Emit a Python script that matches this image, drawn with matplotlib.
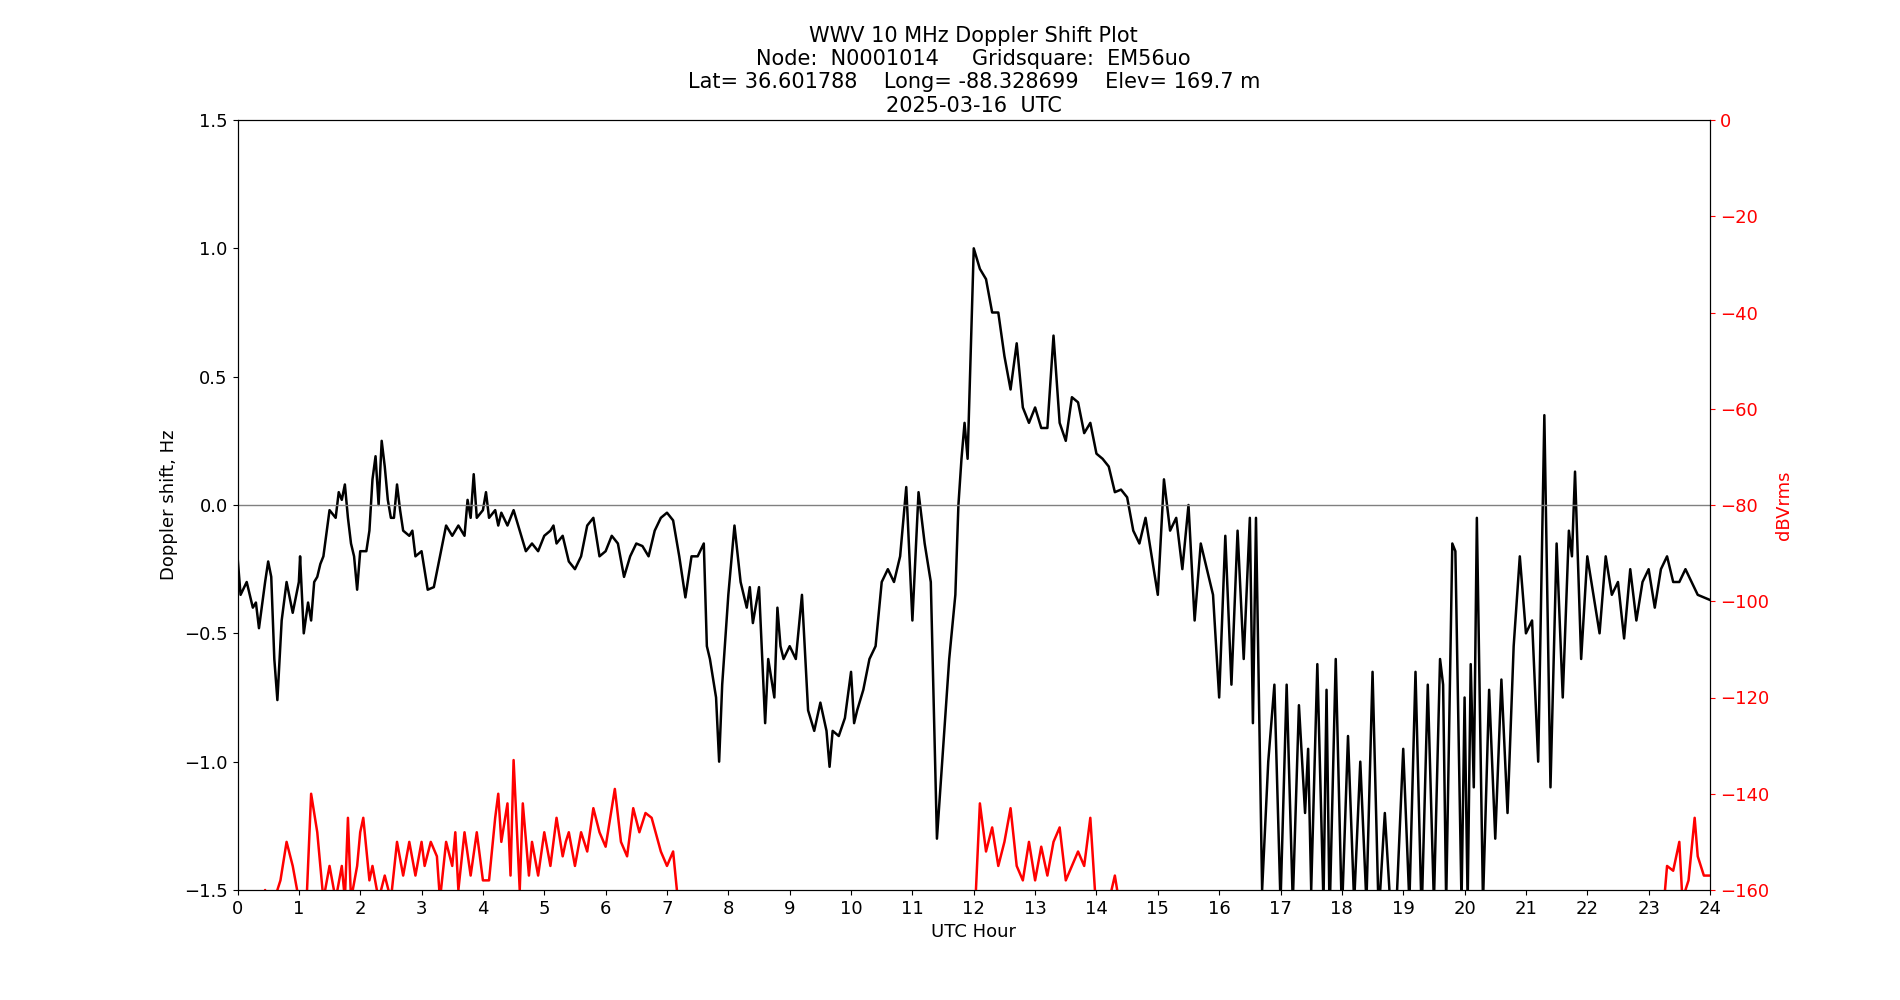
import numpy as np
import matplotlib
matplotlib.use("Agg")
import matplotlib.pyplot as plt

dop_hours = [0, .05, .15, .25, .3, .35, .45, .5, .55, .6, .65, .72, .8, .9, 1.0, 1.02, 1.08, 1.15, 1.2, 1.25, 1.3, 1.35, 1.4, 1.5, 1.6, 1.65, 1.7, 1.75, 1.8, 1.85, 1.9, 1.95, 2.0, 2.1, 2.15, 2.2, 2.25, 2.3, 2.35, 2.4, 2.45, 2.5, 2.55, 2.6, 2.65, 2.7, 2.8, 2.85, 2.9, 3.0, 3.1, 3.2, 3.3, 3.4, 3.5, 3.6, 3.7, 3.75, 3.8, 3.85, 3.9, 4.0, 4.05, 4.1, 4.2, 4.25, 4.3, 4.4, 4.5, 4.6, 4.7, 4.8, 4.9, 5.0, 5.1, 5.15, 5.2, 5.3, 5.4, 5.5, 5.6, 5.7, 5.8, 5.9, 6.0, 6.1, 6.2, 6.3, 6.4, 6.5, 6.6, 6.7, 6.8, 6.9, 7.0, 7.1, 7.2, 7.3, 7.4, 7.5, 7.6, 7.65, 7.7, 7.8, 7.85, 7.9, 8.0, 8.1, 8.2, 8.3, 8.35, 8.4, 8.5, 8.6, 8.65, 8.75, 8.8, 8.85, 8.9, 9.0, 9.1, 9.2, 9.3, 9.4, 9.5, 9.6, 9.65, 9.7, 9.8, 9.9, 10.0, 10.05, 10.1, 10.2, 10.3, 10.4, 10.5, 10.6, 10.7, 10.8, 10.9, 11.0, 11.1, 11.2, 11.3, 11.4, 11.5, 11.6, 11.7, 11.75, 11.8, 11.85, 11.9, 12.0, 12.1, 12.2, 12.3, 12.4, 12.5, 12.6, 12.7, 12.8, 12.9, 13.0, 13.1, 13.2, 13.3, 13.4, 13.5, 13.6, 13.7, 13.8, 13.9, 14.0, 14.1, 14.2, 14.3, 14.4, 14.5, 14.6, 14.7, 14.8, 14.9, 15.0, 15.1, 15.2, 15.3, 15.4, 15.5, 15.6, 15.7, 15.8, 15.9, 16.0, 16.1, 16.2, 16.3, 16.4, 16.5, 16.55, 16.6, 16.7, 16.8, 16.9, 17.0, 17.1, 17.2, 17.3, 17.4, 17.45, 17.5, 17.6, 17.7, 17.75, 17.8, 17.9, 18.0, 18.1, 18.2, 18.3, 18.4, 18.5, 18.6, 18.7, 18.8, 18.9, 19.0, 19.1, 19.2, 19.3, 19.4, 19.5, 19.6, 19.65, 19.7, 19.8, 19.85, 19.95, 20.0, 20.05, 20.1, 20.15, 20.2, 20.3, 20.4, 20.5, 20.6, 20.7, 20.8, 20.9, 21.0, 21.1, 21.2, 21.3, 21.4, 21.5, 21.6, 21.7, 21.75, 21.8, 21.9, 22.0, 22.1, 22.2, 22.3, 22.4, 22.5, 22.6, 22.7, 22.8, 22.9, 23.0, 23.1, 23.2, 23.3, 23.4, 23.5, 23.6, 23.7, 23.8, 24.0]
dop_hz = [-.2, -.35, -.3, -.4, -.38, -.48, -.3, -.22, -.28, -.6, -.76, -.45, -.3, -.42, -.3, -.2, -.5, -.38, -.45, -.3, -.28, -.23, -.2, -.02, -.05, .05, .02, .08, -.05, -.15, -.2, -.33, -.18, -.18, -.1, .1, .19, 0, .25, .15, .02, -.05, -.05, .08, -.02, -.1, -.12, -.1, -.2, -.18, -.33, -.32, -.2, -.08, -.12, -.08, -.12, .02, -.05, .12, -.05, -.02, .05, -.05, -.02, -.08, -.03, -.08, -.02, -.1, -.18, -.15, -.18, -.12, -.1, -.08, -.15, -.12, -.22, -.25, -.2, -.08, -.05, -.2, -.18, -.12, -.15, -.28, -.2, -.15, -.16, -.2, -.1, -.05, -.03, -.06, -.2, -.36, -.2, -.2, -.15, -.55, -.6, -.75, -1.0, -.7, -.35, -.08, -.3, -.4, -.32, -.46, -.32, -.85, -.6, -.75, -.4, -.55, -.6, -.55, -.6, -.35, -.8, -.88, -.77, -.88, -1.02, -.88, -.9, -.83, -.65, -.85, -.8, -.72, -.6, -.55, -.3, -.25, -.3, -.2, .07, -.45, .05, -.15, -.3, -1.3, -.95, -.6, -.35, 0, .18, .32, .18, 1.0, .92, .88, .75, .75, .58, .45, .63, .38, .32, .38, .3, .3, .66, .32, .25, .42, .4, .28, .32, .2, .18, .15, .05, .06, .03, -.1, -.15, -.05, -.2, -.35, .1, -.1, -.05, -.25, 0, -.45, -.15, -.25, -.35, -.75, -.12, -.7, -.1, -.6, -.05, -.85, -.05, -1.5, -1.0, -.7, -1.55, -.7, -1.55, -.78, -1.2, -.95, -1.5, -.62, -1.55, -.72, -1.6, -.6, -1.6, -.9, -1.55, -1.0, -1.55, -.65, -1.6, -1.2, -1.6, -1.5, -.95, -1.55, -.65, -1.6, -.7, -1.55, -.6, -.7, -1.55, -.15, -.18, -1.55, -.75, -1.55, -.62, -1.1, -.05, -1.55, -.72, -1.3, -.68, -1.2, -.55, -.2, -.5, -.45, -1.0, .35, -1.1, -.15, -.75, -.1, -.2, .13, -.6, -.2, -.35, -.5, -.2, -.35, -.3, -.52, -.25, -.45, -.3, -.25, -.4, -.25, -.2, -.3, -.3, -.25, -.3, -.35, -.37]

pwr_hours = [.4, .45, .5, .6, .7, .8, .9, 1.0, 1.1, 1.2, 1.3, 1.4, 1.5, 1.6, 1.7, 1.75, 1.8, 1.85, 1.95, 2.0, 2.05, 2.15, 2.2, 2.3, 2.4, 2.5, 2.6, 2.7, 2.8, 2.9, 3.0, 3.05, 3.15, 3.25, 3.3, 3.4, 3.5, 3.55, 3.6, 3.7, 3.8, 3.9, 4.0, 4.1, 4.2, 4.25, 4.3, 4.4, 4.45, 4.5, 4.6, 4.65, 4.75, 4.8, 4.9, 5.0, 5.1, 5.2, 5.3, 5.35, 5.4, 5.5, 5.6, 5.7, 5.8, 5.9, 6.0, 6.15, 6.25, 6.35, 6.45, 6.55, 6.65, 6.75, 6.9, 7.0, 7.1, 7.2, 7.21,
             11.99, 12.0, 12.1, 12.2, 12.3, 12.4, 12.5, 12.6, 12.7, 12.8, 12.9, 13.0, 13.1, 13.2, 13.3, 13.4, 13.5, 13.6, 13.7, 13.8, 13.9, 14.0, 14.05,
             14.1, 14.3, 14.4, 14.45, 23.2, 23.3, 23.4, 23.5, 23.55, 23.65, 23.75, 23.8, 23.9, 24.0]
pwr_db = [-165, -160, -175, -162, -158, -150, -155, -162, -170, -140, -148, -162, -155, -162, -155, -162, -145, -162, -155, -148, -145, -158, -155, -162, -157, -162, -150, -157, -150, -157, -150, -155, -150, -153, -162, -150, -155, -148, -160, -148, -157, -148, -158, -158, -145, -140, -150, -142, -157, -133, -160, -142, -157, -150, -157, -148, -155, -145, -153, -150, -148, -155, -148, -152, -143, -148, -151, -139, -150, -153, -143, -148, -144, -145, -152, -155, -152, -165, np.nan,
          np.nan, -170, -142, -152, -147, -155, -150, -143, -155, -158, -150, -158, -151, -157, -150, -147, -158, -155, -152, -155, -145, -165, np.nan,
          -168, -157, -165, np.nan, -170, -155, -156, -150, -162, -158, -145, -153, -157, -157]

fig, ax = plt.subplots(figsize=(19, 10), dpi=100)
ax.plot(dop_hours, dop_hz, color="black", lw=1.8)
ax.axhline(0, color="gray", lw=1)
ax.set_xlim(0, 24)
ax.set_ylim(-1.5, 1.5)
ax.set_xticks(range(25))
ax.set_xlabel("UTC Hour", fontsize=13)
ax.set_ylabel("Doppler shift, Hz", fontsize=13)
ax.tick_params(labelsize=13)
ax.set_title("WWV 10 MHz Doppler Shift Plot\nNode:  N0001014     Gridsquare:  EM56uo\n"
             "Lat= 36.601788    Long= -88.328699    Elev= 169.7 m\n2025-03-16  UTC", fontsize=15)

ax2 = ax.twinx()
ax2.plot(pwr_hours, pwr_db, color="red", lw=1.8)
ax2.set_ylim(-160, 0)
ax2.set_ylabel("dBVrms", color="red", fontsize=13)
ax2.tick_params(axis="y", colors="red", labelsize=13)

fig.savefig("out.png")
